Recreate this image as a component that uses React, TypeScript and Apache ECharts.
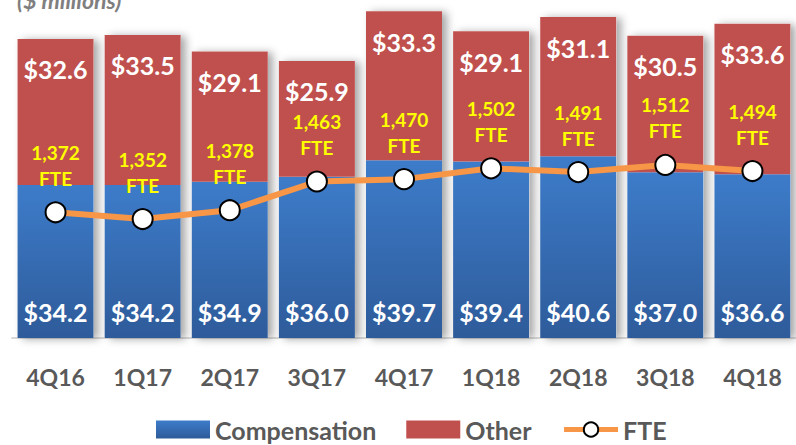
import React, { useEffect, useRef } from "react";
import * as echarts from "echarts";

const categories = ["4Q16", "1Q17", "2Q17", "3Q17", "4Q17", "1Q18", "2Q18", "3Q18", "4Q18"];
const compensation = [34.2, 34.2, 34.9, 36.0, 39.7, 39.4, 40.6, 37.0, 36.6];
const other = [32.6, 33.5, 29.1, 25.9, 33.3, 29.1, 31.1, 30.5, 33.6];
const fte = [1372, 1352, 1378, 1463, 1470, 1502, 1491, 1512, 1494];

const FONT = "Lato, 'Open Sans', sans-serif";

export default function App() {
  const ref = useRef<HTMLDivElement>(null);
  useEffect(() => {
    document.body.style.margin = "0";
    if (!ref.current) return;
    const chart = echarts.init(ref.current, null, { renderer: "svg" });
    const totals = compensation.map((c, i) => +(c + other[i]).toFixed(1));
    const money = (p: any) => "$" + Number(p.value).toFixed(1);
    chart.setOption({
      animation: false,
      textStyle: { fontFamily: FONT },
      grid: { left: 12, top: 0, width: 790, bottom: 107, containLabel: false },
      graphic: [
        {
          type: "text",
          left: 17,
          top: -12,
          style: {
            text: "($ millions)",
            fontFamily: FONT,
            fontSize: 23,
            fontWeight: "bold",
            fontStyle: "italic",
            fill: "#7F7F7F",
          },
        },
      ],
      legend: {
        data: [
          { name: "Compensation", icon: "rect" },
          { name: "Other", icon: "rect" },
          { name: "FTE", lineStyle: { width: 5 } },
        ],
        left: 156,
        top: 417,
        padding: 0,
        itemWidth: 54,
        itemHeight: 18,
        itemGap: 30,
        textStyle: { fontFamily: FONT, fontSize: 25, fontWeight: "bold", color: "#595959" },
      },
      xAxis: {
        type: "category",
        data: categories,
        axisLine: { lineStyle: { color: "#D9D9D9", width: 2 } },
        axisTick: { show: false },
        axisLabel: { margin: 27, fontFamily: FONT, fontSize: 23, fontWeight: "bold", color: "#595959" },
      },
      yAxis: [
        { type: "value", min: 0, max: 75.5, show: false, splitLine: { show: false } },
        { type: "value", min: 1000, max: 2000, show: false, splitLine: { show: false } },
      ],
      series: [
        {
          name: "shadow",
          type: "bar",
          data: totals,
          barWidth: 76,
          barGap: "-100%",
          silent: true,
          itemStyle: {
            color: "#ffffff",
            shadowColor: "rgba(0,0,0,0.35)",
            shadowBlur: 8,
            shadowOffsetX: 5,
            shadowOffsetY: 1,
          },
          z: 1,
        },
        {
          name: "Compensation",
          type: "bar",
          stack: "cost",
          data: compensation,
          barWidth: 76,
          itemStyle: {
            color: new echarts.graphic.LinearGradient(0, 0, 0, 1, [
              { offset: 0, color: "#3D7CCA" },
              { offset: 1, color: "#2E5B9A" },
            ]),
          },
          label: {
            show: true,
            position: "insideBottom",
            distance: 14,
            formatter: money,
            fontFamily: FONT,
            fontSize: 25,
            fontWeight: "bold",
            color: "#ffffff",
          },
          z: 2,
        },
        {
          name: "Other",
          type: "bar",
          stack: "cost",
          data: other,
          barWidth: 76,
          itemStyle: { color: "#C0504D" },
          label: {
            show: true,
            position: "insideTop",
            distance: 18,
            formatter: money,
            fontFamily: FONT,
            fontSize: 25,
            fontWeight: "bold",
            color: "#ffffff",
          },
          z: 2,
        },
        {
          name: "FTE",
          type: "line",
          yAxisIndex: 1,
          data: fte,
          symbol: "circle",
          symbolSize: 20,
          lineStyle: { color: "#F79646", width: 6 },
          itemStyle: { color: "#ffffff", borderColor: "#000000", borderWidth: 2 },
          label: {
            show: true,
            position: "top",
            distance: 10,
            formatter: (p: any) => Number(p.value).toLocaleString("en-US") + "\nFTE",
            fontFamily: FONT,
            fontSize: 19,
            lineHeight: 26,
            fontWeight: "bold",
            color: "#FFFF00",
          },
          z: 5,
        },
      ],
    });
    return () => chart.dispose();
  }, []);
  return <div ref={ref} style={{ width: 796, height: 445 }} />;
}
